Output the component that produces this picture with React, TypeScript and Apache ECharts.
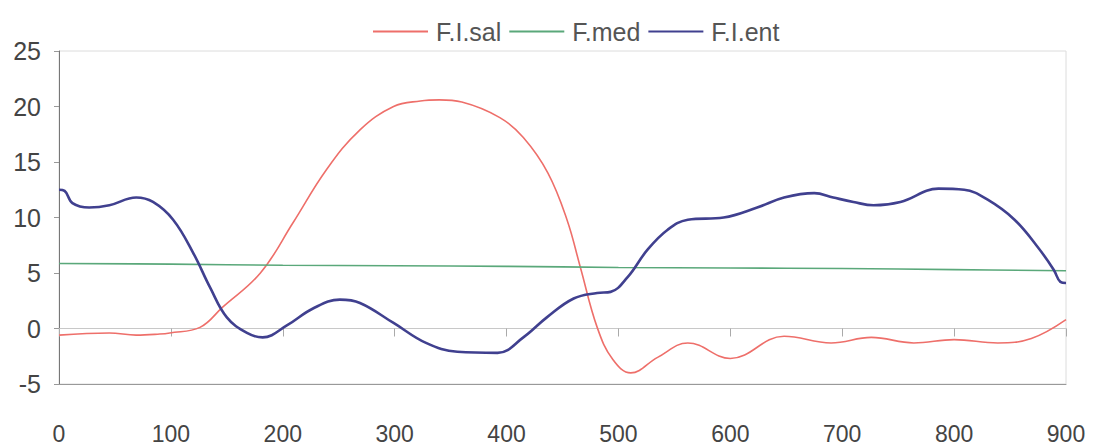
import React, { useEffect, useRef } from "react";
import * as echarts from "echarts";

const seriesNames = ["F.I.sal", "F.med", "F.I.ent"];
const xTicks = [0, 100, 200, 300, 400, 500, 600, 700, 800, 900];

const salX = [0, 45, 69, 90, 99, 126, 146, 180, 209, 239, 269, 299, 323, 340, 360, 394, 415, 437, 454, 466, 481, 495, 511, 535, 562, 600, 648, 690, 726, 764, 800, 839, 869, 900];
const salY = [-0.6, -0.4, -0.6, -0.5, -0.4, 0.1, 1.9, 5.0, 9.5, 14.3, 17.9, 20.0, 20.5, 20.6, 20.4, 19.0, 17.2, 14.0, 9.8, 5.5, 0.1, -2.8, -4.0, -2.6, -1.3, -2.7, -0.7, -1.3, -0.8, -1.3, -1.0, -1.3, -0.9, 0.8];

const medX = [0, 100, 200, 300, 400, 500, 600, 700, 800, 900];
const medY = [5.85, 5.8, 5.7, 5.65, 5.6, 5.5, 5.45, 5.4, 5.3, 5.2];

const entX = [0, 5, 12, 27, 45, 69, 84, 102, 120, 135, 150, 168, 182, 204, 227, 251, 269, 299, 328, 356, 392, 415, 436, 460, 481, 493, 508, 526, 544, 562, 594, 624, 648, 675, 692, 710, 728, 752, 786, 809, 830, 854, 875, 889, 895, 900];
const entY = [12.5, 12.4, 11.3, 10.9, 11.1, 11.8, 11.4, 9.8, 6.8, 3.7, 1.0, -0.4, -0.8, 0.3, 1.8, 2.6, 2.3, 0.5, -1.3, -2.1, -2.2, -0.8, 1.0, 2.7, 3.2, 3.3, 4.6, 7.1, 8.9, 9.8, 10.0, 10.9, 11.8, 12.2, 11.8, 11.4, 11.1, 11.4, 12.6, 12.5, 11.6, 9.8, 7.3, 5.3, 4.2, 4.1];

const zip = (xs: number[], ys: number[]) => xs.map((x, i) => [x, ys[i]]);

export default function App() {
  const ref = useRef<HTMLDivElement>(null);
  useEffect(() => {
    if (!ref.current) return;
    const chart = echarts.init(ref.current, null, { renderer: "svg" });
    const font = "'Liberation Sans', Arial, sans-serif";
    chart.setOption({
      animation: false,
      backgroundColor: "#ffffff",
      textStyle: { fontFamily: font },
      legend: {
        top: 14,
        left: 368,
        icon: "rect",
        itemWidth: 55,
        itemHeight: 2,
        itemGap: 8,
        textStyle: { fontSize: 25, color: "#555", fontFamily: font, padding: [0, 0, 0, 3] },
        data: seriesNames,
      },
      grid: {
        left: 59,
        right: 28,
        top: 51,
        bottom: 64,
        show: true,
        borderColor: "#dcdcdc",
        borderWidth: 1,
      },
      xAxis: [
        {
          type: "value",
          min: 0,
          max: 900,
          interval: 100,
          position: "bottom",
          axisLine: { show: true, onZero: false, lineStyle: { color: "#999" } },
          axisTick: { show: false },
          splitLine: { show: false },
          axisLabel: {
            fontSize: 23,
            color: "#444",
            margin: 38,
            fontFamily: font,
            formatter: (v: number) => (xTicks.includes(v) ? String(v) : ""),
          },
        },
        {
          type: "value",
          min: 0,
          max: 900,
          interval: 100,
          position: "top",
          axisLine: { show: true, onZero: true, lineStyle: { color: "#c8c8c8" } },
          axisTick: { show: true, inside: true, length: 8, lineStyle: { color: "#aaa" } },
          axisLabel: { show: false },
          splitLine: { show: false },
        },
      ],
      yAxis: {
        type: "value",
        min: -5,
        max: 25,
        interval: 5,
        axisLine: { show: true, lineStyle: { color: "#777" } },
        axisTick: { show: true, length: 5, lineStyle: { color: "#999" } },
        splitLine: { show: false },
        axisLabel: { fontSize: 25, color: "#444", margin: 18, fontFamily: font },
      },
      series: [
        {
          name: seriesNames[0],
          type: "line",
          smooth: 0.4,
          symbol: "none",
          data: zip(salX, salY),
          lineStyle: { color: "#ee6f6a", width: 1.6 },
          itemStyle: { color: "#ee6f6a" },
        },
        {
          name: seriesNames[1],
          type: "line",
          smooth: 0.4,
          symbol: "none",
          data: zip(medX, medY),
          lineStyle: { color: "#5aa87a", width: 1.6 },
          itemStyle: { color: "#5aa87a" },
        },
        {
          name: seriesNames[2],
          type: "line",
          smooth: 0.4,
          symbol: "none",
          data: zip(entX, entY),
          lineStyle: { color: "#40408f", width: 2.6 },
          itemStyle: { color: "#40408f" },
        },
      ],
    });
    return () => chart.dispose();
  }, []);
  return <div ref={ref} style={{ width: 1094, height: 448, position: "absolute", left: 0, top: 0 }} />;
}
